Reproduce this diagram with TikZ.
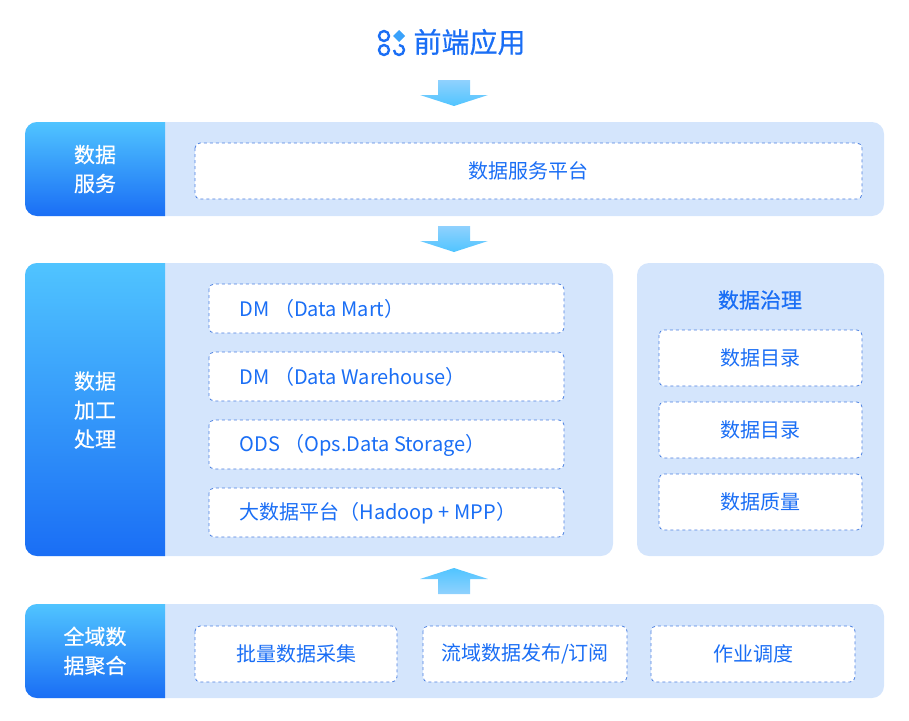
\documentclass[tikz,border=0pt]{standalone}
\usepackage{fontspec}
\setmainfont{Noto Sans CJK SC}
\newfontfamily\medfont[FakeBold=0.6]{Noto Sans CJK SC}
\usetikzlibrary{positioning}
\definecolor{brand}{HTML}{1A6EF5}
\definecolor{panelbg}{HTML}{D4E5FC}
\definecolor{tabtop}{HTML}{50C4FF}
\definecolor{dashc}{HTML}{4A7FE0}
\tikzset{
  panel/.style={fill=panelbg, rounded corners=12pt},
  item/.style={draw=dashc, dashed, fill=white, rounded corners=5pt, line width=0.8pt},
  itemtext/.style={text=brand, font=\fontsize{20}{23}\selectfont},
  tabtext/.style={text=white, font=\medfont\fontsize{21}{29}\selectfont, align=center},
}
\newcommand{\flowarrow}[2]{% x center, y top, pointing down
  \shade[top color=brand!20!tabtop!60!white, bottom color=tabtop]
    (#1-16,#2) -- (#1+16,#2) -- (#1+16,#2+15) -- (#1+34,#2+15) -- (#1,#2+26) -- (#1-34,#2+15) -- (#1-16,#2+15) -- cycle;}
\newcommand{\uparrowblk}[2]{% x center, y bottom, pointing up
  \shade[bottom color=brand!20!tabtop!60!white, top color=tabtop]
    (#1-16,#2) -- (#1+16,#2) -- (#1+16,#2-15) -- (#1+34,#2-15) -- (#1,#2-26) -- (#1-34,#2-15) -- (#1-16,#2-15) -- cycle;}
\newcommand{\paneltab}[4]{% x1,y1,x2,y2 panel, tab to x=165
  \fill[panel] (#1,#2) rectangle (#3,#4);
  \begin{scope}
    \clip[rounded corners=12pt] (#1,#2) rectangle (#3,#4);
    \shade[top color=tabtop, bottom color=brand] (#1,#2) rectangle (165,#4);
  \end{scope}}
\begin{document}
\begin{tikzpicture}[x=1pt, y=-1pt]
\useasboundingbox (0,0) rectangle (909,720);

% title
\node[text=brand, font=\medfont\fontsize{28}{32}\selectfont, anchor=west] (title) at (410,42) {前端应用};
\draw[brand, line width=2.4pt] (384,36) circle (5) (384,50) circle (5);
\draw[brand, line width=2.4pt] (399,45) arc[start angle=-90, end angle=180, radius=5];
\fill[tabtop!60!brand] (399,30) -- (405,36) -- (399,42) -- (393,36) -- cycle;
\flowarrow{454}{80}

% data service
\paneltab{25}{122}{884}{216}
\node[tabtext] (svc) at (95,169) {数据\\服务};
\draw[item] (195,143) rectangle (862,199);
\node[itemtext] (svcbox) at (528,171) {数据服务平台};
\flowarrow{454}{226}

% processing
\paneltab{25}{263}{613}{556}
\node[tabtext] (proc) at (95,410) {数据\\加工\\处理};
\foreach \y/\t [count=\i] in {284/DM （Data Mart）, 352/DM （Data Warehouse）, 420/ODS （Ops.Data Storage）, 488/大数据平台（Hadoop + MPP）}{
  \draw[item] (209,\y) rectangle (564,\y+49);
  \node[itemtext, anchor=west] (layer\i) at (236,\y+25) {\t};
}

% governance
\fill[panel] (637,263) rectangle (884,556);
\node[text=brand, font=\medfont\fontsize{21}{24}\selectfont] (gov) at (760,300) {数据治理};
\foreach \y/\t [count=\i] in {330/数据目录, 402/数据目录, 474/数据质量}{
  \draw[item] (659,\y) rectangle (862,\y+56);
  \node[itemtext] (govitem\i) at (760,\y+28) {\t};
}
\uparrowblk{454}{594}

% aggregation
\paneltab{25}{604}{884}{698}
\node[tabtext] (agg) at (95,651) {全域数\\据聚合};
\foreach \x/\w/\t [count=\i] in {195/202/{批量数据采集}, 423/204/{流域数据发布/订阅}, 651/204/{作业调度}}{
  \draw[item] (\x,626) rectangle (\x+\w,682);
  \node[itemtext] (src\i) at (\x+\w/2,654) {\t};
}
\end{tikzpicture}
\end{document}
